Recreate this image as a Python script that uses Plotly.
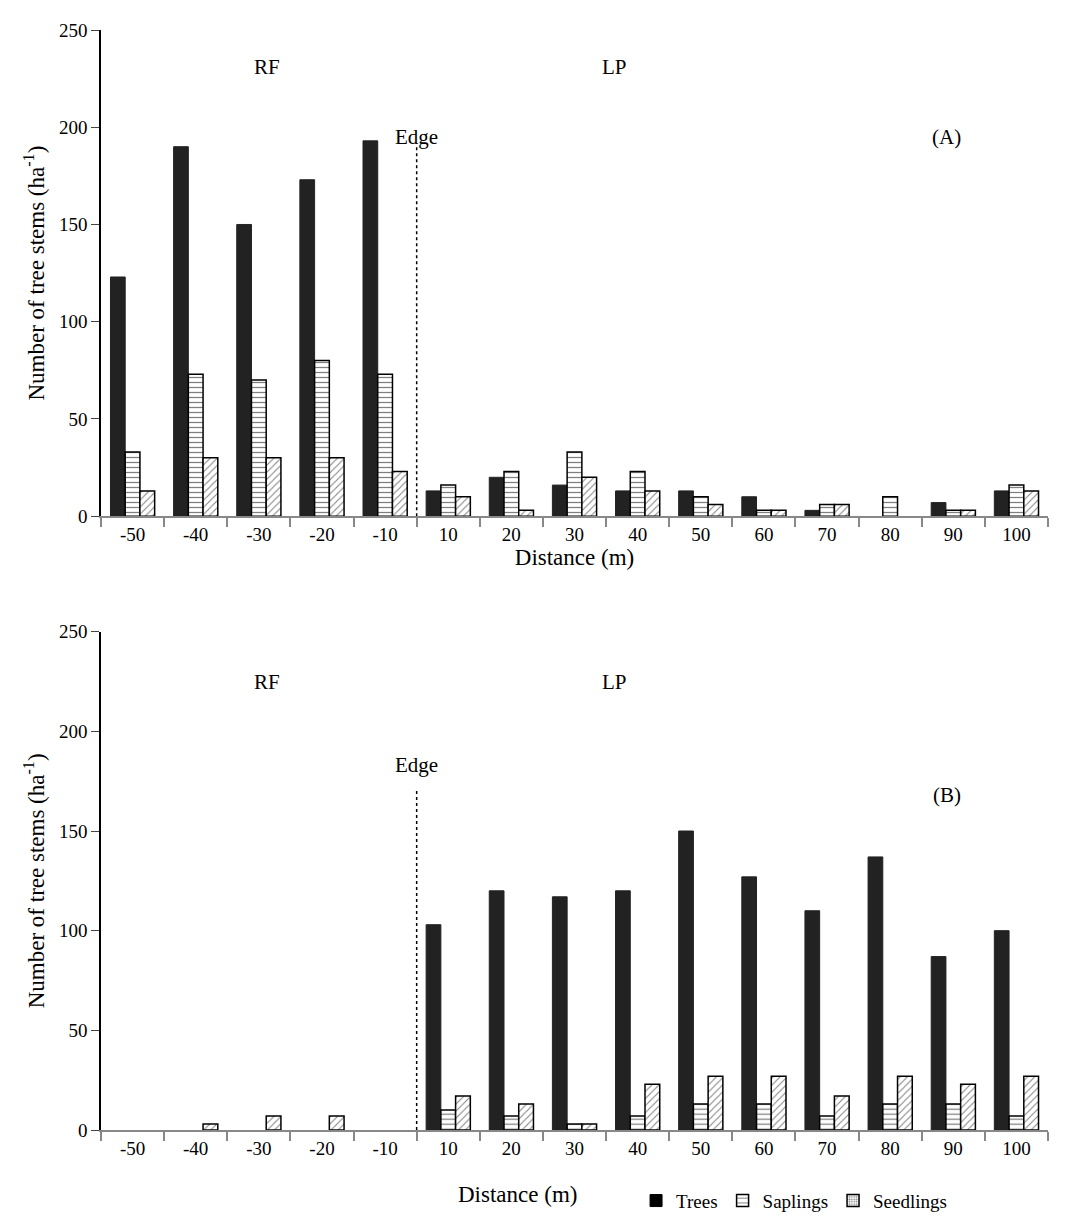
import plotly.graph_objects as go

distances = ["-50", "-40", "-30", "-20", "-10", "10", "20", "30", "40", "50", "60", "70", "80", "90", "100"]

trees_a = [123, 190, 150, 173, 193, 13, 20, 16, 13, 13, 10, 3, 0, 7, 13]
saplings_a = [33, 73, 70, 80, 73, 16, 23, 33, 23, 10, 3, 6, 10, 3, 16]
seedlings_a = [13, 30, 30, 30, 23, 10, 3, 20, 13, 6, 3, 6, 0, 3, 13]

trees_b = [0, 0, 0, 0, 0, 103, 120, 117, 120, 150, 127, 110, 137, 87, 100]
saplings_b = [0, 0, 0, 0, 0, 10, 7, 3, 7, 13, 13, 7, 13, 13, 7]
seedlings_b = [0, 3, 7, 7, 0, 17, 13, 3, 23, 27, 27, 17, 27, 23, 27]

FONT = "Liberation Serif"
xs = list(range(len(distances)))
line = dict(color="black", width=1.5)


def nz(vals):
    # zero-height bars are not drawn in the reference
    return [v if v else None for v in vals]


fig = go.Figure()
for xa, ya, tr, sa, se in [("x", "y", trees_a, saplings_a, seedlings_a),
                           ("x2", "y2", trees_b, saplings_b, seedlings_b)]:
    fig.add_trace(go.Bar(x=xs, y=nz(tr), xaxis=xa, yaxis=ya, showlegend=False,
                         marker=dict(color="#222222", line=dict(color="#222222", width=1))))
    fig.add_trace(go.Bar(x=xs, y=nz(sa), xaxis=xa, yaxis=ya, showlegend=False,
                         marker=dict(color="white", line=line,
                                     pattern=dict(shape="-", fgcolor="black", size=5, solidity=0.25))))
    fig.add_trace(go.Bar(x=xs, y=nz(se), xaxis=xa, yaxis=ya, showlegend=False,
                         marker=dict(color="white", line=line,
                                     pattern=dict(shape="/", fgcolor="black", size=5, solidity=0.2))))

# legend-only entries on a hidden axis
for name, marker in [
    ("Trees", dict(color="black", line=dict(color="black", width=1))),
    ("Saplings", dict(color="white", line=line, pattern=dict(shape="-", fgcolor="black", size=6, solidity=0.2))),
    ("Seedlings", dict(color="white", line=line, pattern=dict(shape=".", fgcolor="black", size=3, solidity=0.4))),
]:
    fig.add_trace(go.Bar(x=[None], y=[None], name=name, marker=marker, xaxis="x3", yaxis="y3"))

xcommon = dict(tickmode="array", tickvals=xs, ticktext=distances, range=[-0.5, 14.5],
               showline=True, linecolor="#888888", linewidth=1.5, ticks="", showgrid=False,
               zeroline=False, tickfont=dict(size=19, family=FONT, color="black"),
               minor=dict(tickmode="array", tickvals=[i - 0.5 for i in range(16)],
                          ticks="outside", ticklen=9, tickcolor="#888888", tickwidth=1.5))
ycommon = dict(range=[0, 250], tickvals=[0, 50, 100, 150, 200, 250], showline=True,
               linecolor="black", linewidth=1.5, ticks="outside", ticklen=8, showgrid=False,
               zeroline=False, tickfont=dict(size=19, family=FONT, color="black"),
               title=dict(text="Number of tree stems (ha<sup>-1</sup>)", standoff=8,
                          font=dict(size=23, family=FONT, color="black")))

fig.update_layout(
    width=1067, height=1224, plot_bgcolor="white", paper_bgcolor="white",
    margin=dict(l=93, r=27, t=17, b=81),
    barmode="group", bargap=0.3, bargroupgap=0,
    xaxis=dict(xcommon, anchor="y",
               title=dict(text="Distance (m)", standoff=4, font=dict(size=23, family=FONT, color="black"))),
    yaxis=dict(ycommon, domain=[0.558, 1.0], anchor="x"),
    xaxis2=dict(xcommon, anchor="y2"),
    yaxis2=dict(ycommon, domain=[0.0, 0.453], anchor="x2"),
    xaxis3=dict(visible=False, domain=[0, 0.01], anchor="y3"),
    yaxis3=dict(visible=False, domain=[0, 0.01], anchor="x3"),
    legend=dict(orientation="h", x=0.565, y=-0.047, xanchor="left", yanchor="top",
                font=dict(size=19, family=FONT, color="black"), itemwidth=30,
                tracegroupgap=0, traceorder="normal"),
    font=dict(family=FONT, color="black"),
)

fig.add_annotation(text="Distance (m)", xref="paper", yref="paper", x=0.44, y=-0.045,
                   yanchor="top", xanchor="center", showarrow=False,
                   font=dict(size=23, family=FONT, color="black"))

for xr, yr, rf_y, edge_y, lab, lab_y, top in [("x", "y", 231, 195, "(A)", 195, 190),
                                               ("x2", "y2", 225, 183, "(B)", 168, 171)]:
    fig.add_annotation(text="RF", x=2.13, y=rf_y, xref=xr, yref=yr, showarrow=False, font=dict(size=21))
    fig.add_annotation(text="LP", x=7.63, y=rf_y, xref=xr, yref=yr, showarrow=False, font=dict(size=21))
    fig.add_annotation(text="Edge", x=4.5, y=edge_y, xref=xr, yref=yr, showarrow=False, font=dict(size=21))
    fig.add_annotation(text=lab, x=12.9, y=lab_y, xref=xr, yref=yr, showarrow=False, font=dict(size=21))
    fig.add_shape(type="line", x0=4.5, x1=4.5, y0=0, y1=top, xref=xr, yref=yr,
                  line=dict(color="black", width=1.5, dash="dot"))

fig.write_html("out.html")
